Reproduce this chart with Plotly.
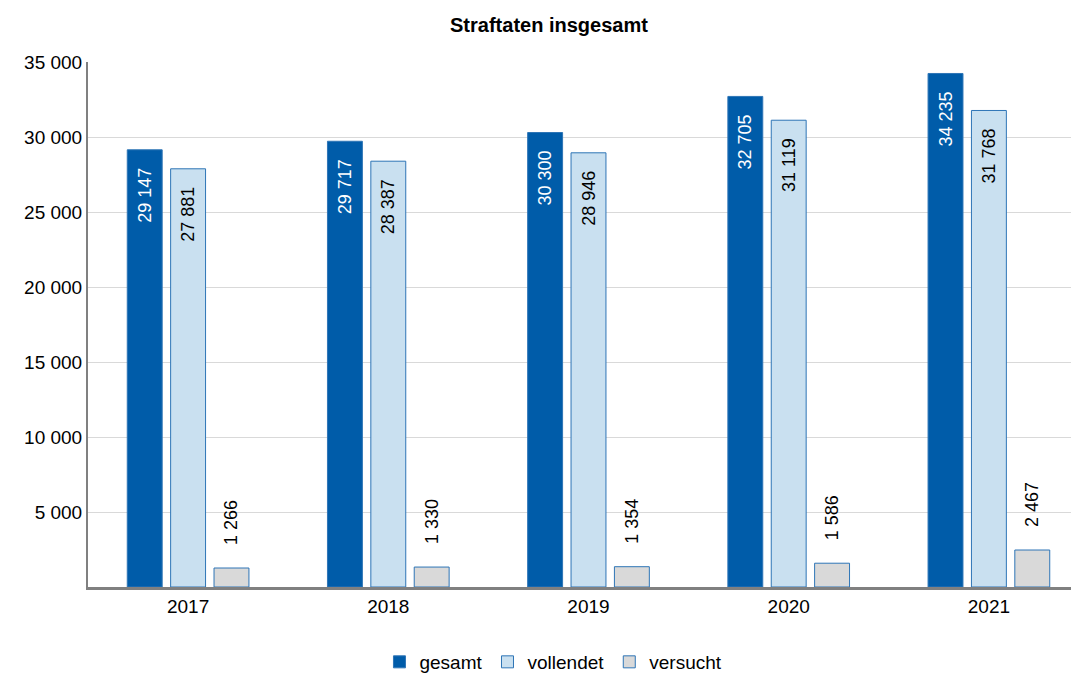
import plotly.graph_objects as go

jahre = ["2017", "2018", "2019", "2020", "2021"]
gesamt = [29147, 29717, 30300, 32705, 34235]
vollendet = [27881, 28387, 28946, 31119, 31768]
versucht = [1266, 1330, 1354, 1586, 2467]
y_ticks = [5000, 10000, 15000, 20000, 25000, 30000, 35000]

FONT = "Arial, Liberation Sans, sans-serif"
NB = "\u00a0"


def fmt(values, pre="", post=""):
    return [pre + f"{v:,}".replace(",", " ") + post for v in values]


fig = go.Figure()
fig.add_trace(go.Bar(x=jahre, y=gesamt, name="gesamt", text=fmt(gesamt, post=NB * 3),
                     marker=dict(color="#005CA9", line=dict(color="#2E75B6", width=1)),
                     textposition="inside", insidetextanchor="end", textangle=-90,
                     insidetextfont=dict(color="white", size=18, family=FONT)))
fig.add_trace(go.Bar(x=jahre, y=vollendet, name="vollendet", text=fmt(vollendet, post=NB * 3),
                     marker=dict(color="#C9E0F0", line=dict(color="#2E75B6", width=1)),
                     textposition="inside", insidetextanchor="end", textangle=-90,
                     insidetextfont=dict(color="black", size=18, family=FONT)))
fig.add_trace(go.Bar(x=jahre, y=versucht, name="versucht", text=fmt(versucht, pre=NB * 4),
                     marker=dict(color="#D9D9D9", line=dict(color="#2E75B6", width=1)),
                     textposition="outside", textangle=-90, cliponaxis=False,
                     outsidetextfont=dict(color="black", size=18, family=FONT)))

# page body has an 8px margin; the plot area runs past the right edge like in the original
fig.update_layout(
    width=1083, height=667,
    paper_bgcolor="white", plot_bgcolor="white",
    font=dict(family=FONT, size=19, color="black"),
    title=dict(text="<b>Straftaten insgesamt</b>", x=0.4995, xanchor="center",
               y=0.9745, yanchor="middle", font=dict(size=20)),
    margin=dict(l=80, r=2, t=54, b=88, autoexpand=False),
    barmode="group", bargap=0.35, bargroupgap=0.195,
    uniformtext=dict(minsize=18, mode="show"),
    showlegend=True,
    legend=dict(orientation="h", x=0.465, xanchor="center", yref="container",
                y=0.0195, yanchor="middle", font=dict(size=19), traceorder="normal"),
)
fig.update_yaxes(range=[0, 35000], tickvals=y_ticks, ticktext=fmt(y_ticks),
                 showgrid=True, gridcolor="#D9D9D9", gridwidth=1, automargin=False,
                 showline=True, linecolor="#808080", linewidth=2, ticks="", zeroline=False)
fig.update_xaxes(showline=True, linecolor="#808080", linewidth=3, ticks="", showgrid=False,
                 automargin=False)

fig.write_html("out.html")
